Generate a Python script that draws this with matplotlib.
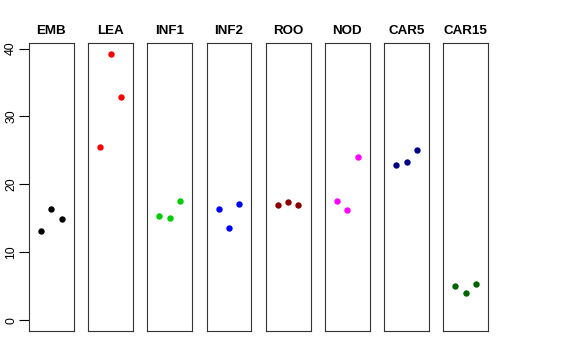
import matplotlib
matplotlib.use("Agg")
import matplotlib.pyplot as plt

plt.rcParams['font.family'] = ['Liberation Sans', 'DejaVu Sans']

tissues = ['EMB', 'LEA', 'INF1', 'INF2', 'ROO', 'NOD', 'CAR5', 'CAR15']
colors = ['black', 'red', '#00CD00', 'blue', '#8B0000', 'magenta', '#00008B', '#006400']
replicates = [1, 2, 3]
values = [
    [13.2, 16.4, 14.9],
    [25.5, 39.2, 32.8],
    [15.4, 15.1, 17.6],
    [16.4, 13.6, 17.1],
    [17.0, 17.35, 17.0],
    [17.6, 16.2, 24.0],
    [22.8, 23.3, 25.0],
    [5.0, 4.0, 5.4],
]
y_ticks = [0, 10, 20, 30, 40]

W, H = 576, 360
fig = plt.figure(figsize=(W / 100, H / 100), dpi=100)

ymax = max(max(v) for v in values)
pad = ymax * 0.04
left0, step, width = 29, 59.2, 44.7
top, bottom = 43.3, 331

for i, (name, col, vals) in enumerate(zip(tissues, colors, values)):
    ax = fig.add_axes([(left0 + i * step) / W, 1 - bottom / H, width / W, (bottom - top) / H])
    ax.plot(replicates, vals, 'o', color=col, markersize=4.6, markeredgewidth=0)
    ax.set_xlim(-0.16, 4.16)
    ax.set_ylim(-pad, ymax + pad)
    ax.set_xticks([])
    for s in ax.spines.values():
        s.set_linewidth(0.8)
        s.set_color('#333333')
    ax.set_title(name, fontsize=9.6, fontweight='bold', pad=7)
    if i == 0:
        ax.set_yticks(y_ticks)
        ax.set_yticklabels([str(t) for t in y_ticks], rotation=90, va='center', fontsize=8.8)
        ax.tick_params(axis='y', length=7, width=0.8, pad=1.5)
    else:
        ax.set_yticks([])

fig.savefig('out.png', dpi=100)
